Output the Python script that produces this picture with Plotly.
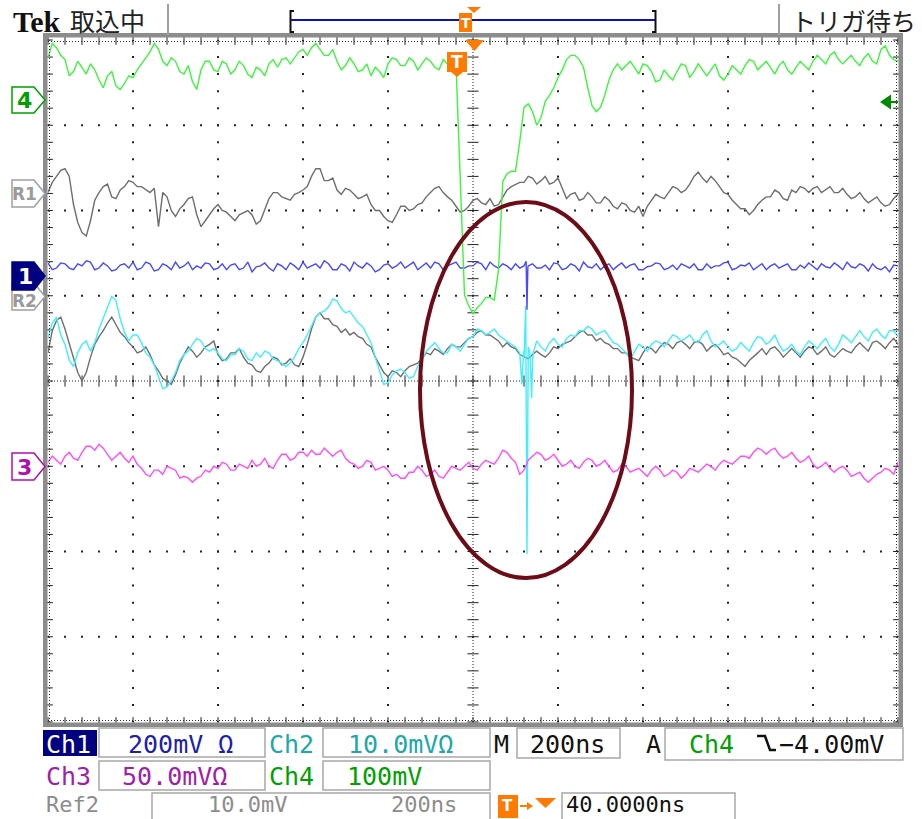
import numpy as np
import plotly.graph_objects as go

# ---------------- data (read from the screen) ----------------
# time base: main samples every 20 ns (trigger at 0 ns, 200 ns/div),
# plus in-between samples (offset 10 ns) carrying the visible noise
T_START_NS = -960
T_STEP_NS = 20
N_SAMPLES = 101

# channel settings: mV/div and ground-marker position (div from screen centre)
SCALE_MV = {"CH1": 200, "CH2": 10, "CH3": 50, "CH4": 100, "R1": 10, "R2": 10}
POS_DIV = {"CH4": 3.3, "R1": 2.2, "CH1": 1.28, "R2": 1.0, "CH2": 1.0, "CH3": -1.0}

CH4_MV = [49, 61, 47, 33, 38, 42, 23, 28, 16, 19,
          26, 42, 56, 59, 40, 45, 30, 21, 35, 45,
          33, 42, 35, 40, 26, 35, 42, 38, 49, 49,
          59, 61, 59, 52, 45, 40, 42, 35, 28, 33,
          42, 47, 40, 45, 42, 45, 35, 42, 42, -229,
          -251, -239, -232, -200, -87, -84, -9, -14, -21, 5,
          26, 47, 52, 38, -7, -9, 23, 42, 40, 38,
          42, 33, 23, 28, 33, 40, 33, 35, 35, 28,
          30, 35, 40, 45, 40, 38, 40, 35, 38, 40,
          45, 47, 52, 47, 47, 45, 49, 45, 59, 52,
          45]
CH4_MID_MV = [66, 52, 28, 45, 30, 35, 14, 33, 12, 28,
              35, 49, 66, 45, 49, 33, 40, 12, 45, 35,
              45, 30, 45, 30, 38, 28, 47, 47, 42, 56,
              52, 66, 52, 59, 35, 49, 33, 42, 38, 26,
              49, 40, 49, 35, 49, 38, 47, 38, -86, -242,
              -244, -232, -235, -96, -84, -49, -5, -30, -2, 14,
              35, 52, 47, 14, -14, 5, 35, 35, 45, 30,
              40, 21, 35, 23, 42, 26, 42, 28, 42, 23,
              40, 30, 47, 35, 45, 30, 45, 30, 45, 35,
              52, 42, 56, 42, 52, 40, 54, 42, 63, 47]

R1_MV = [0.1, 2.0, 2.9, -1.3, -4.6, -3.2, 0.1, 1.1, -0.6, 0.8,
         1.3, 0.8, 0.1, -3.9, -0.4, -2.7, -1.3, -0.4, -3.9, -2.5,
         -1.3, -2.2, -3.2, -2.2, -2.5, -3.2, -0.6, 0.1, -0.6, -0.1,
         0.4, 2.0, 2.9, 1.5, 0.4, 0.6, -0.1, -0.4, -1.3, -2.0,
         -3.2, -2.5, -1.5, -1.8, -1.1, 0.1, 0.8, -0.4, -1.5, -2.0,
         -0.8, -1.1, -0.6, -1.3, 0.4, 1.1, 1.3, 1.8, 1.5, 1.1,
         1.8, -0.6, 0.1, -0.6, -0.4, -1.1, -0.8, -1.8, -1.3, -2.2,
         -2.7, -0.8, -0.4, 0.1, 0.6, 0.4, 2.0, 1.8, 2.0, 0.8,
         -0.1, -1.3, -1.8, -2.0, -0.8, -0.4, 0.1, -0.8, 0.1, 0.6,
         0.6, 0.1, 0.8, 0.1, -0.1, -0.4, -0.6, -0.8, -1.1, -1.3,
         -0.1]
R1_MID_MV = [1.3, 2.7, 2.0, -3.4, -5.0, -0.8, 0.8, -0.4, 0.4, 1.5,
             0.8, 0.4, 0.6, 0.1, -2.0, -1.8, -0.6, -2.5, -3.2, -1.8,
             -2.0, -2.7, -2.5, -2.0, -3.6, -1.8, 0.1, -0.4, -0.8, 0.1,
             0.8, 2.9, 1.5, 1.8, -0.1, 0.4, -0.6, -0.1, -2.0, -2.7,
             -3.4, -1.5, -2.0, -1.3, -0.4, 0.6, 0.1, -0.8, -2.2, -1.5,
             -0.6, -1.3, -1.5, -0.4, 0.8, 1.3, 2.0, 1.1, 2.0, 1.3,
             0.6, -0.1, -0.8, 0.1, -1.1, -0.4, -1.5, -1.1, -2.0, -1.5,
             -1.5, -0.1, -0.6, 0.8, 0.1, 1.1, 2.5, 1.3, 1.5, 0.1,
             -0.8, -1.8, -2.5, -1.3, -0.4, 0.4, -0.6, 0.4, 0.8, 0.1,
             0.8, 0.4, 0.1, 0.6, -0.6, 0.1, -1.1, -0.4, -1.5, -0.6]

CH1_MV = [21, 9, 19, 5, 14, 23, 9, 14, 5, 19,
          23, 9, 19, 5, 14, 23, 14, 5, 9, 19,
          9, 5, 19, 9, 0, 14, 9, 19, 5, 14,
          23, 14, 9, 19, 5, 14, 23, 9, 14, 5,
          19, 14, 9, 23, 14, 9, 19, 14, 23, 9,
          14, 19, 23, 9, 14, 19, 14, 19, 9, 5,
          19, 9, 14, 23, 9, 5, 19, 14, 9, 19,
          5, 14, 19, 9, 5, 14, 19, 5, 9, 14,
          23, 9, 14, 5, 19, 14, 9, 19, 5, 9,
          14, 19, 9, 14, 23, 9, 14, 19, 5, 0,
          14]
CH1_MID_MV = [5, 21, 9, 19, 26, 5, 21, 2, 16, 9,
              5, 23, 2, 19, 5, 9, 23, 14, 21, 5,
              19, 16, 5, 23, 12, 21, 2, 14, 21, 5,
              9, 19, 26, 5, 19, 2, 14, 21, 0, 16,
              9, 23, 16, 5, 21, 23, 5, 19, 9, 14,
              23, 5, 14, 19, 5, 9, 14, 9, 16, 21,
              5, 19, 2, 12, 19, 14, 5, 21, 16, 5,
              12, 21, 5, 16, 19, 9, 5, 19, 14, 21,
              5, 16, 21, 12, 5, 19, 14, 5, 16, 21,
              5, 12, 21, 5, 12, 19, 2, 9, 12, 16]
CH1_SPIKE_T = [165, 167, 169]
CH1_SPIKE_MV = [25, -89, 10]

CH2_MV = [-5.0, -2.5, -5.7, -8.3, -5.7, -6.5, -3.9, -1.3, -0.6, -4.3,
          -4.6, -5.5, -7.2, -9.5, -10.7, -9.0, -6.9, -5.7, -5.3, -6.5,
          -6.7, -7.6, -6.9, -6.5, -7.6, -7.2, -6.7, -7.6, -8.3, -7.2,
          -5.5, -3.6, -2.0, -1.3, -0.6, -2.0, -2.5, -3.6, -5.5, -8.8,
          -10.2, -8.8, -9.0, -9.5, -7.4, -6.0, -6.2, -6.7, -6.0, -5.7,
          -4.8, -4.1, -4.3, -4.6, -5.3, -6.0, -7.2, -7.6, -6.0, -5.5,
          -5.7, -5.0, -4.8, -4.1, -3.9, -4.3, -4.8, -5.7, -6.7, -6.5,
          -6.0, -5.7, -5.5, -5.3, -4.8, -5.0, -5.3, -4.6, -5.3, -5.7,
          -6.0, -6.2, -6.0, -5.5, -5.0, -5.3, -5.7, -6.2, -6.5, -6.0,
          -5.7, -5.5, -6.0, -5.7, -5.0, -4.8, -4.8, -4.3, -4.6, -4.1,
          -4.8]
CH2_MID_MV = [-3.2, -4.6, -7.6, -6.7, -5.3, -5.5, -2.7, -0.1, -2.7, -5.3,
              -4.6, -6.7, -8.1, -10.9, -10.0, -7.6, -6.5, -5.0, -6.2, -6.2,
              -7.4, -6.9, -6.2, -7.4, -6.7, -6.5, -7.4, -7.9, -7.9, -6.2,
              -4.6, -2.5, -1.8, -0.4, -1.5, -1.8, -3.2, -4.6, -7.2, -10.4,
              -9.3, -8.6, -9.7, -8.3, -6.5, -5.5, -6.7, -5.7, -6.5, -5.0,
              -3.9, -4.6, -3.9, -5.0, -5.7, -6.7, -6.0, -5.3, -6.5, -5.0,
              -6.0, -4.6, -4.1, -3.6, -4.6, -4.1, -5.5, -6.2, -7.4, -5.7,
              -6.5, -5.3, -6.0, -4.6, -5.3, -4.6, -5.5, -4.1, -6.0, -5.3,
              -6.5, -5.5, -6.5, -4.8, -5.7, -4.6, -6.5, -5.7, -6.9, -5.3,
              -6.2, -5.0, -6.5, -4.6, -5.5, -4.1, -5.3, -3.9, -5.0, -4.1]
CH2_SPIKE_T = [155, 159, 164, 167, 174, 178, 183]
CH2_SPIKE_MV = [-10.4, -6.5, -1.2, -30.3, -6.7, -12.0, -6.5]

R2_MV = [-6.7, -2.9, -3.9, -7.4, -10.0, -7.2, -4.8, -3.2, -3.4, -4.8,
         -6.0, -6.5, -6.9, -8.8, -10.0, -9.3, -6.9, -6.5, -6.7, -5.7,
         -6.9, -7.4, -6.7, -7.2, -8.1, -9.0, -7.9, -7.4, -7.9, -8.1,
         -7.2, -3.9, -2.0, -2.7, -3.6, -3.9, -4.3, -5.0, -6.0, -8.1,
         -9.5, -9.0, -8.8, -8.1, -7.4, -6.9, -6.5, -6.2, -6.0, -5.5,
         -4.8, -4.1, -4.6, -5.3, -5.5, -6.2, -7.2, -6.9, -6.9, -6.7,
         -6.2, -5.5, -4.8, -4.1, -4.6, -5.0, -5.7, -6.2, -6.7, -7.4,
         -6.7, -6.2, -6.0, -5.7, -5.5, -5.7, -5.5, -5.7, -6.0, -6.2,
         -6.7, -7.4, -8.3, -7.2, -6.2, -6.2, -6.5, -6.7, -6.7, -6.5,
         -6.2, -6.5, -6.9, -6.7, -6.5, -6.0, -6.0, -5.5, -5.7, -5.5,
         -5.7]
R2_MID_MV = [-4.1, -2.5, -5.7, -9.0, -9.0, -5.7, -4.1, -2.5, -4.3, -5.5,
             -6.7, -6.0, -8.1, -9.7, -10.4, -7.9, -6.0, -7.2, -6.0, -5.3,
             -7.6, -6.7, -6.2, -7.9, -8.8, -8.3, -7.2, -8.1, -7.4, -8.3,
             -5.7, -2.5, -2.7, -3.4, -4.3, -4.6, -4.8, -5.7, -7.2, -9.0,
             -8.8, -9.5, -8.3, -7.9, -6.7, -6.2, -6.9, -5.7, -6.0, -5.0,
             -4.3, -4.6, -5.0, -6.0, -6.0, -6.9, -7.4, -6.5, -7.2, -6.0,
             -5.7, -5.3, -4.3, -4.6, -5.3, -5.5, -6.2, -6.7, -7.2, -7.6,
             -6.0, -6.7, -5.5, -6.2, -5.3, -6.2, -5.3, -6.5, -5.7, -6.9,
             -7.2, -7.9, -7.6, -6.7, -6.9, -6.0, -7.2, -6.2, -7.2, -6.0,
             -6.9, -6.0, -7.2, -6.2, -6.7, -5.5, -6.5, -5.3, -6.2, -5.0]

CH3_MV = [2.3, 3.5, 5.9, 4.7, 8.2, 11.7, 12.9, 7.0, 5.9, 4.7,
          5.9, -1.2, -5.9, -2.3, 0, -2.3, -5.9, -9.4, -5.9, -3.5,
          -1.2, 1.2, -2.3, 0, 3.5, 1.2, 0, 3.5, 7.0, 4.7,
          8.2, 9.4, 7.0, 8.2, 8.2, 4.7, 1.2, 0, 2.3, -1.2,
          -2.3, -4.7, -7.0, -3.5, -2.3, -4.7, -5.9, -3.5, -1.2, 0,
          -1.2, 1.2, 2.3, 4.7, 8.2, 2.3, -2.3, 5.9, 7.0, 4.7,
          3.5, 1.2, 0, 2.3, 3.5, 1.2, 0, -2.3, 0, -2.3,
          -3.5, -2.3, -2.3, -4.7, -3.5, -4.7, -2.3, -1.2, 0, 1.2,
          2.3, 3.5, 5.9, 8.2, 9.4, 9.4, 7.0, 5.9, 4.7, 3.5,
          1.2, 0, -1.2, -1.2, -2.3, -4.7, -7.0, -7.0, -3.5, -2.3,
          2.3]
CH3_MID_MV = [5.9, 1.2, 8.2, 3.5, 11.7, 9.4, 10.6, 3.5, 8.2, 2.3,
              1.2, -4.7, -2.3, -4.7, -1.2, -7.0, -7.0, -7.0, -2.3, 0,
              2.3, -2.3, 1.2, -1.2, 0, 4.7, -1.2, 7.0, 3.5, 8.2,
              5.9, 7.0, 10.6, 5.9, 9.4, 2.3, -1.2, 3.5, -2.3, 0,
              -5.9, -7.0, -3.5, 0, -5.9, -2.3, -7.0, 0, -2.3, 2.3,
              -2.3, 3.5, 1.2, 9.4, 4.7, -4.7, 3.5, 8.2, 3.5, 7.0,
              0, 3.5, -1.2, 4.7, 0, 3.5, -3.5, 1.2, -3.5, -1.2,
              -5.9, 0, -5.9, -2.3, -7.0, -1.2, -3.5, 1.2, -2.3, 3.5,
              1.2, 5.9, 4.7, 10.6, 7.0, 10.6, 4.7, 8.2, 2.3, 5.9,
              -1.2, 2.3, -3.5, 0, -5.9, -3.5, -9.4, -4.7, -1.2, -4.7]

# ---------------- page geometry ----------------
W, H = 922, 819
ML, MR, MT, MB = 48, 24, 40, 97
PW, PH = W - ML - MR, H - MT - MB
X_RANGE = [-960, 1040]
Y_RANGE = [-4, 4]


def X(px):
    return (px - ML) / PW


def Y(py):
    return (H - MB - py) / PH


T = T_START_NS + T_STEP_NS * np.arange(N_SAMPLES)
T_MID = T[:-1] + T_STEP_NS / 2

fig = go.Figure()

# ---------------- graticule ----------------
gx, gy = [], []
for i in range(1, 10):
    if i == 5:
        continue
    for j in range(41):
        gx.append(X_RANGE[0] + 200 * i)
        gy.append(-4 + 0.2 * j)
for r in [-3, -2, -1, 1, 2, 3]:
    for j in range(51):
        gx.append(X_RANGE[0] + 40 * j)
        gy.append(r)
fig.add_trace(go.Scatter(x=gx, y=gy, mode="markers", hoverinfo="skip",
                         marker=dict(symbol="square", size=2, color="#222", line=dict(width=0))))

TC = 40  # centre of screen in ns
cx = [X_RANGE[0] + 40 * j for j in range(51)]
cy = [-4 + 0.2 * j for j in range(41)]
fig.add_trace(go.Scatter(x=cx, y=[0] * len(cx), mode="markers", hoverinfo="skip", cliponaxis=False,
                         marker=dict(symbol="line-ns", size=8, line=dict(width=1, color="#222"))))
fig.add_trace(go.Scatter(x=[TC] * len(cy), y=cy, mode="markers", hoverinfo="skip", cliponaxis=False,
                         marker=dict(symbol="line-ew", size=8, line=dict(width=1, color="#222"))))
fig.add_trace(go.Scatter(x=[X_RANGE[0]] * len(cy) + [X_RANGE[1]] * len(cy), y=cy + cy,
                         mode="markers", hoverinfo="skip", cliponaxis=False,
                         marker=dict(symbol="line-ew", size=7, line=dict(width=1, color="#222"))))
fig.add_trace(go.Scatter(x=cx + cx, y=[Y_RANGE[1]] * len(cx) + [Y_RANGE[0]] * len(cx),
                         mode="markers", hoverinfo="skip", cliponaxis=False,
                         marker=dict(symbol="line-ns", size=7, line=dict(width=1, color="#222"))))


# ---------------- waveforms ----------------
def wave(key, mv, mid_mv, extra_t=None, extra_mv=None):
    ts = [np.array(T, dtype=float), np.array(T_MID, dtype=float)]
    vs = [np.array(mv, dtype=float), np.array(mid_mv, dtype=float)]
    if extra_t is not None:
        ts.append(np.array(extra_t, dtype=float))
        vs.append(np.array(extra_mv, dtype=float))
    t = np.concatenate(ts)
    v = np.concatenate(vs)
    order = np.argsort(t, kind="stable")
    return t[order], POS_DIV[key] + v[order] / SCALE_MV[key]


TRACES = [
    ("R1", R1_MV, R1_MID_MV, None, None, "#6e6e6e"),
    ("R2", R2_MV, R2_MID_MV, None, None, "#6e6e6e"),
    ("CH2", CH2_MV, CH2_MID_MV, CH2_SPIKE_T, CH2_SPIKE_MV, "#40eeff"),
    ("CH3", CH3_MV, CH3_MID_MV, None, None, "#ff4cff"),
    ("CH1", CH1_MV, CH1_MID_MV, CH1_SPIKE_T, CH1_SPIKE_MV, "#4848ff"),
    ("CH4", CH4_MV, CH4_MID_MV, None, None, "#3cf53c"),
]
for key, mv, mid, et, emv, col in TRACES:
    tx, ty = wave(key, mv, mid, et, emv)
    fig.add_trace(go.Scatter(x=tx, y=ty, mode="lines", hoverinfo="skip",
                             line=dict(color=col, width=1.4)))

# ---------------- shapes ----------------
shapes = []


def rect(x0, y0, x1, y1, fill=None, line=None, lw=1.5, layer="above"):
    shapes.append(dict(type="rect", xref="paper", yref="paper", x0=X(x0), x1=X(x1), y0=Y(y1), y1=Y(y0),
                       fillcolor=fill if fill else "rgba(0,0,0,0)",
                       line=dict(color=line if line else "rgba(0,0,0,0)", width=lw if line else 0),
                       layer=layer))


def seg(x0, y0, x1, y1, color, width=1, dash=None, layer="above"):
    d = dict(type="line", xref="paper", yref="paper", x0=X(x0), x1=X(x1), y0=Y(y0), y1=Y(y1),
             line=dict(color=color, width=width), layer=layer)
    if dash:
        d["line"]["dash"] = dash
    shapes.append(d)


def poly(pts, fill=None, line=None, lw=1.5, closed=True):
    p = "M " + " L ".join(f"{X(a):.5f},{Y(b):.5f}" for a, b in pts) + (" Z" if closed else "")
    shapes.append(dict(type="path", xref="paper", yref="paper", path=p,
                       fillcolor=fill if fill else "rgba(0,0,0,0)",
                       line=dict(color=line if line else "rgba(0,0,0,0)", width=lw if line else 0),
                       layer="above"))


# centre cross lines (dense dotted)
seg(48, 381, 898, 381, "#222", 1, "1px,2px", layer="below")
seg(473, 40, 473, 722, "#222", 1, "1px,2px", layer="below")
# edges dotted
seg(48, 41.5, 898, 41.5, "#333", 1, "1px,2px")
seg(48, 720.5, 898, 720.5, "#333", 1, "1px,2px")
seg(49.5, 40, 49.5, 722, "#333", 1, "1px,2px")
seg(896.5, 40, 896.5, 722, "#333", 1, "1px,2px")
# frame bars
FRAME = "#8c8c8c"
rect(43, 33, 47.5, 727, fill=FRAME)
rect(43, 33, 903, 37.5, fill=FRAME)
rect(898.5, 33, 903, 727, fill=FRAME)
rect(43, 722.5, 903, 727, fill=FRAME)

# header
seg(168, 4, 168, 35, "#a0a0a0", 2)
seg(779, 4, 779, 35, "#a0a0a0", 2)
poly([(294, 11), (290.5, 11), (290.5, 32), (294, 32)], line="#111", lw=2, closed=False)
poly([(652, 11), (655.5, 11), (655.5, 32), (652, 32)], line="#111", lw=2, closed=False)
seg(291, 20, 655, 20, "#1010c0", 2)
ORANGE = "#ff7a00"
rect(459, 13, 472, 32, fill=ORANGE)
poly([(467, 7), (481, 7), (474, 13)], fill=ORANGE)

# trigger position markers inside the screen
poly([(465, 40), (484, 40), (474.5, 51)], fill=ORANGE)
rect(447, 52, 467, 72, fill=ORANGE)
poly([(451, 72), (463, 72), (457, 77)], fill=ORANGE)

# trigger level arrow (right side)
poly([(880, 102), (891, 94.5), (891, 109.5)], fill="#008a00")
seg(890, 102, 898, 102, "#008a00", 2)


# channel ground tags (left side)
def tag(y0, y1, fill, line):
    poly([(12, y0), (34, y0), (45, (y0 + y1) / 2), (34, y1), (12, y1)], fill=fill, line=line, lw=1.5)


tag(87, 113, "white", "#00a000")
tag(180, 207, "white", "#a0a0a0")
tag(283, 310, "white", "#a0a0a0")
tag(262, 290, "#000080", "#000080")
tag(453, 480, "white", "#b010b0")

# selection ellipse
shapes.append(dict(type="circle", xref="paper", yref="paper", x0=X(420), x1=X(632), y0=Y(578), y1=Y(202),
                   line=dict(color="#6d0b17", width=4), layer="above"))

# status boxes
BOX = "#a8a8a8"
rect(43, 730, 97, 756, fill="#000080")
rect(99, 728, 265, 757, line=BOX)
rect(323, 728, 490, 757, line=BOX)
rect(517, 728, 620, 758, line=BOX)
rect(665, 728, 903, 760, line=BOX)
rect(99, 761, 265, 790, line=BOX)
rect(323, 761, 490, 790, line=BOX)
rect(152, 793, 490, 830, line=BOX)
rect(562, 793, 735, 830, line=BOX)
rect(498, 795, 518, 818, fill=ORANGE)
poly([(535, 798), (556, 798), (545.5, 808)], fill=ORANGE)
seg(520, 806, 532, 806, ORANGE, 2)
poly([(527, 802), (533, 806), (527, 810)], fill=ORANGE)
# falling-slope symbol
poly([(757, 736), (765, 736), (770, 750), (776, 750)], line="#111", lw=2.5, closed=False)

# ---------------- text ----------------
ann = []


def txt(x, y, s, size, color, family="DejaVu Sans Mono", anchor="left", bold=False):
    ann.append(dict(x=X(x), y=Y(y), xref="paper", yref="paper", text=f"<b>{s}</b>" if bold else s,
                    showarrow=False, xanchor=anchor, yanchor="middle",
                    font=dict(family=family, size=size, color=color)))


txt(11, 21, "Tek", 30, "#111", family="Liberation Serif", bold=True)
txt(68, 20, "取込中", 25, "#222", family="Noto Sans CJK JP")
txt(789, 20, "トリガ待ち", 25, "#222", family="Noto Sans CJK JP")
txt(465.5, 23, "T", 14, "white", family="DejaVu Sans", anchor="center", bold=True)
txt(457, 62, "T", 17, "white", family="DejaVu Sans", anchor="center", bold=True)

txt(24, 100, "4", 22, "#00a000", family="DejaVu Sans", anchor="center", bold=True)
txt(24, 194, "R1", 17, "#9a9a9a", family="DejaVu Sans", anchor="center", bold=True)
txt(24, 301, "R2", 17, "#9a9a9a", family="DejaVu Sans", anchor="center", bold=True)
txt(25, 276, "1", 22, "white", family="DejaVu Sans", anchor="center", bold=True)
txt(24, 467, "3", 22, "#b010b0", family="DejaVu Sans", anchor="center", bold=True)

FS = 25
FS3 = 22
txt(44, 744, "Ch1", FS, "white")
txt(126, 744, "200mV Ω", FS, "#2020a8")
txt(267, 744, "Ch2", FS, "#20a8a8")
txt(346, 744, "10.0mVΩ", FS, "#20a8a8")
txt(492, 744, "M", FS, "#111")
txt(528, 744, "200ns", FS, "#111")
txt(644, 744, "A", FS, "#111")
txt(687, 744, "Ch4", FS, "#00a000")
txt(777, 744, "−4.00mV", FS, "#111")
txt(44, 776, "Ch3", FS, "#a020a8")
txt(120, 776, "50.0mVΩ", FS, "#a020a8")
txt(267, 776, "Ch4", FS, "#00a000")
txt(345, 776, "100mV", FS, "#00a000")
txt(44, 805, "Ref2", FS3, "#8c8c8c")
txt(206, 805, "10.0mV", FS3, "#8c8c8c")
txt(389, 805, "200ns", FS3, "#8c8c8c")
txt(508, 806, "T", 15, "white", family="DejaVu Sans", anchor="center", bold=True)
txt(564, 805, "40.0000ns", FS3, "#111")

fig.update_layout(
    width=W, height=H, margin=dict(l=ML, r=MR, t=MT, b=MB, pad=0),
    paper_bgcolor="white", plot_bgcolor="white", showlegend=False,
    xaxis=dict(range=X_RANGE, visible=False, fixedrange=True),
    yaxis=dict(range=Y_RANGE, visible=False, fixedrange=True),
    shapes=shapes, annotations=ann, hovermode=False,
)

fig.write_html("out.html")
